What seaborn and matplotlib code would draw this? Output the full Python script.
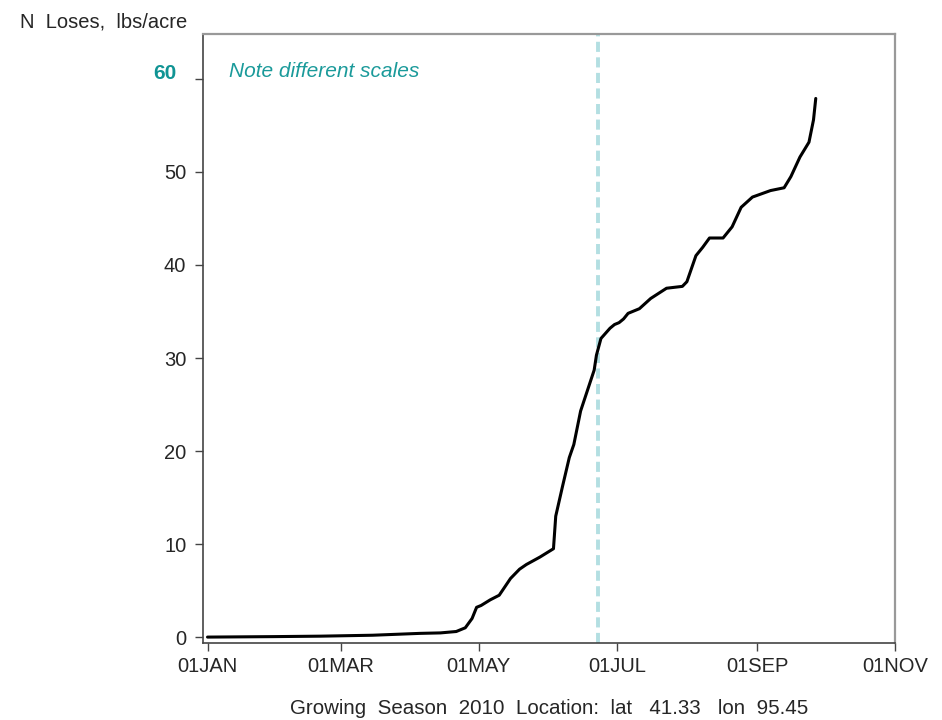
import matplotlib
matplotlib.use("Agg")
import matplotlib.pyplot as plt
import matplotlib.dates as mdates
import matplotlib.ticker as mticker
import pandas as pd
import seaborn as sns

# Cumulative nitrogen losses over the 2010 growing season
dates = [
    "2010-01-01", "2010-01-30", "2010-02-20", "2010-03-15", "2010-04-05",
    "2010-04-14", "2010-04-21", "2010-04-25", "2010-04-28", "2010-04-30",
    "2010-05-02", "2010-05-06", "2010-05-10", "2010-05-15", "2010-05-19",
    "2010-05-22", "2010-05-28", "2010-06-01", "2010-06-03", "2010-06-04",
    "2010-06-07", "2010-06-10", "2010-06-12", "2010-06-15", "2010-06-18",
    "2010-06-21", "2010-06-22", "2010-06-24", "2010-06-28", "2010-06-30",
    "2010-07-02", "2010-07-04", "2010-07-06", "2010-07-11", "2010-07-16",
    "2010-07-23", "2010-07-30", "2010-08-01", "2010-08-05", "2010-08-08",
    "2010-08-11", "2010-08-17", "2010-08-21", "2010-08-25", "2010-08-30",
    "2010-09-07", "2010-09-13", "2010-09-16", "2010-09-20", "2010-09-24",
    "2010-09-26", "2010-09-27",
]
n_loss = [
    0.0, 0.05, 0.1, 0.2, 0.4,
    0.45, 0.6, 1.0, 2.0, 3.2,
    3.4, 4.0, 4.5, 6.3, 7.3,
    7.8, 8.6, 9.2, 9.5, 13.0,
    16.2, 19.3, 20.7, 24.3, 26.5,
    28.7, 30.3, 32.1, 33.2, 33.6,
    33.8, 34.2, 34.8, 35.3, 36.4,
    37.5, 37.7, 38.2, 41.0, 41.9,
    42.9, 42.9, 44.1, 46.2, 47.3,
    48.0, 48.3, 49.5, 51.6, 53.2,
    55.6, 57.9,
]
y_ticks = [0, 10, 20, 30, 40, 50, 60]
y_labels = ["0", "10", "20", "30", "40", "50", ""]
top_label = "60"
x_ticks = ["2010-01-01", "2010-03-01", "2010-05-01", "2010-07-01", "2010-09-01", "2010-11-01"]
marker_date = "2010-06-22 12:00"

df = pd.DataFrame({"date": pd.to_datetime(dates), "loss": n_loss})

sns.set_style("white")
plt.rcParams["font.family"] = ["Liberation Sans", "DejaVu Sans"]

fig = plt.figure(figsize=(9.42, 7.2), dpi=100)
ax = fig.add_axes([0.2155, 0.1074, 0.7345, 0.845])

sns.lineplot(data=df, x="date", y="loss", ax=ax, color="black", linewidth=2.2)
ax.axvline(pd.Timestamp(marker_date), color="#b3dfe2", linewidth=2.8,
           linestyle=(0, (2.6, 1.4)), zorder=1)

ax.set_xlim(pd.Timestamp("2009-12-30"), pd.Timestamp("2010-11-01"))
ax.set_ylim(-0.6, 64.8)

ax.set_xticks(pd.to_datetime(x_ticks))
ax.xaxis.set_major_formatter(
    mticker.FuncFormatter(lambda v, _: mdates.num2date(v).strftime("%d%b").upper()))
ax.set_yticks(y_ticks)
ax.set_yticklabels(y_labels)
ax.tick_params(axis="both", which="major", direction="out", length=6, width=1,
               color="#444444", labelsize=14.5, pad=4, left=True, bottom=True)
ax.tick_params(axis="y", pad=6)

# highlighted top value of the scale
ax.annotate(top_label, xy=(0, 60), xycoords=("axes fraction", "data"),
            xytext=(-27, 5), textcoords="offset pixels", ha="right", va="center",
            fontsize=15, fontweight="bold", color="#109494")

for side in ["left", "bottom"]:
    ax.spines[side].set_color("#444444")
    ax.spines[side].set_linewidth(1.2)
for side in ["top", "right"]:
    ax.spines[side].set_color("#999999")
    ax.spines[side].set_linewidth(1.6)

ax.set_xlabel("Growing  Season  2010  Location:  lat   41.33   lon  95.45",
              fontsize=14.8, labelpad=17)
ax.set_ylabel("")
fig.text(20 / 942, 1 - 22 / 720, "N  Loses,  lbs/acre", fontsize=14.5,
         ha="left", va="center")
ax.text(0.037, 0.938, "Note different scales", transform=ax.transAxes,
        fontsize=15, style="italic", color="#1a9a9a", ha="left", va="center")

fig.savefig("out.png", dpi=100)
